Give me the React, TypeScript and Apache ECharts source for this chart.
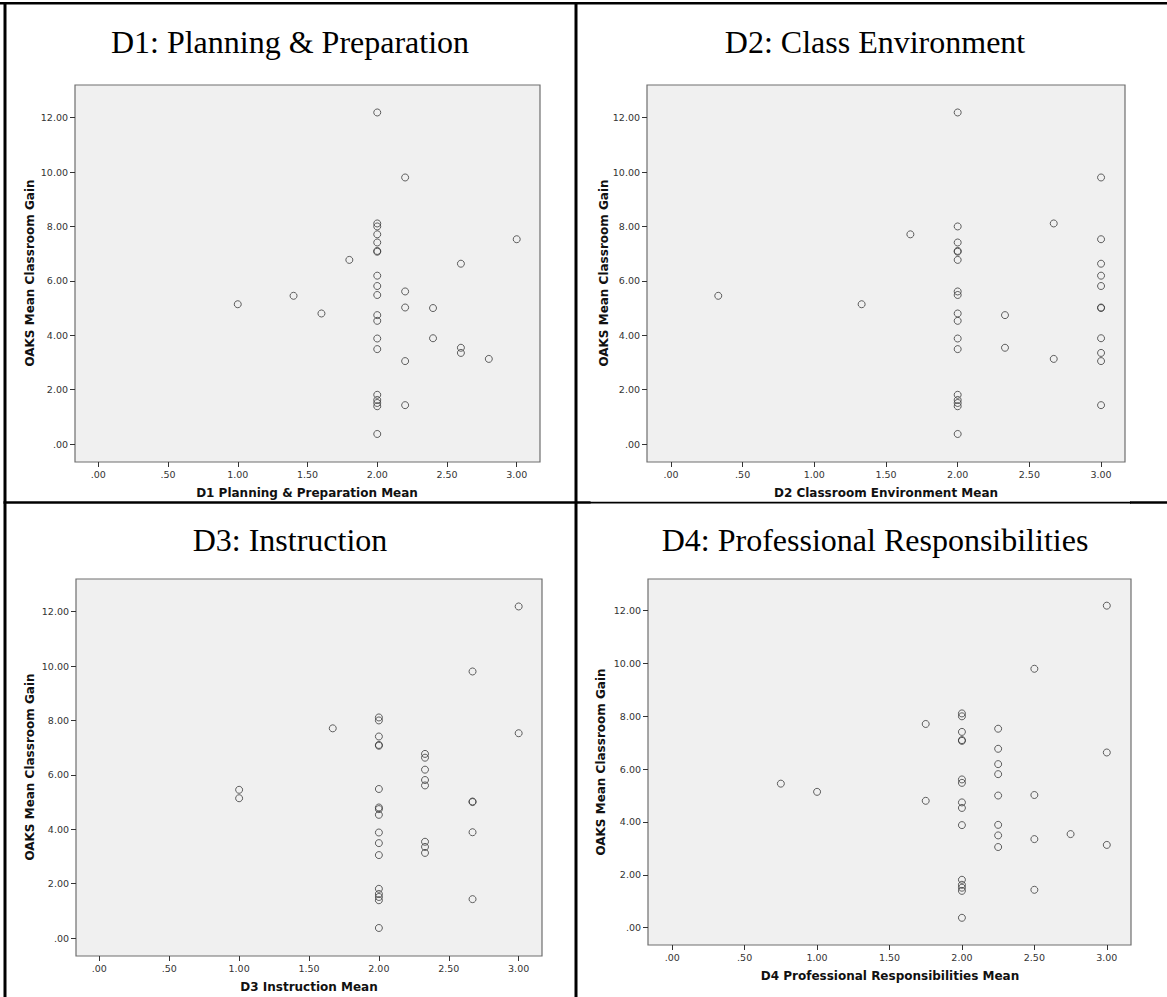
import React, { useEffect, useRef } from "react";
import * as echarts from "echarts";

// OAKS mean classroom gain per teacher (same teachers in every panel)
const gain = [
  12.19, 9.8, 8.11, 8.0, 7.71, 7.41, 7.1, 7.07, 6.77, 7.53, 6.63, 6.19, 5.81, 5.61, 5.48, 5.45, 5.14, 5.02,
  5.0, 4.8, 4.74, 4.53, 3.88, 3.89, 3.49, 3.54, 3.35, 3.05, 3.13, 1.81, 1.62, 1.51, 1.39, 1.43, 0.37,
];

// Domain means for the same teachers, in the same order as gain
const d1Planning = [
  2.0, 2.2, 2.0, 2.0, 2.0, 2.0, 2.0, 2.0, 1.8, 3.0, 2.6, 2.0, 2.0, 2.2, 2.0, 1.4, 1.0, 2.2,
  2.4, 1.6, 2.0, 2.0, 2.0, 2.4, 2.0, 2.6, 2.6, 2.2, 2.8, 2.0, 2.0, 2.0, 2.0, 2.2, 2.0,
];
const d2Environment = [
  2.0, 3.0, 2.67, 2.0, 1.67, 2.0, 2.0, 2.0, 2.0, 3.0, 3.0, 3.0, 3.0, 2.0, 2.0, 0.33, 1.33, 3.0,
  3.0, 2.0, 2.33, 2.0, 2.0, 3.0, 2.0, 2.33, 3.0, 3.0, 2.67, 2.0, 2.0, 2.0, 2.0, 3.0, 2.0,
];
const d3Instruction = [
  3.0, 2.67, 2.0, 2.0, 1.67, 2.0, 2.0, 2.0, 2.33, 3.0, 2.33, 2.33, 2.33, 2.33, 2.0, 1.0, 1.0, 2.67,
  2.67, 2.0, 2.0, 2.0, 2.0, 2.67, 2.0, 2.33, 2.33, 2.0, 2.33, 2.0, 2.0, 2.0, 2.0, 2.67, 2.0,
];
const d4Professional = [
  3.0, 2.5, 2.0, 2.0, 1.75, 2.0, 2.0, 2.0, 2.25, 2.25, 3.0, 2.25, 2.25, 2.0, 2.0, 0.75, 1.0, 2.5,
  2.25, 1.75, 2.0, 2.0, 2.0, 2.25, 2.25, 2.75, 2.5, 2.25, 3.0, 2.0, 2.0, 2.0, 2.0, 2.5, 2.0,
];

const xTicks = [0, 0.5, 1, 1.5, 2, 2.5, 3];
const yTicks = [0, 2, 4, 6, 8, 10, 12];

const panelTitles = [
  "D1: Planning & Preparation",
  "D2: Class Environment",
  "D3: Instruction",
  "D4: Professional Responsibilities",
];
const xAxisTitles = [
  "D1 Planning & Preparation Mean",
  "D2 Classroom Environment Mean",
  "D3 Instruction Mean",
  "D4 Professional Responsibilities Mean",
];
const yAxisTitle = "OAKS Mean Classroom Gain";
const domainMeans = [d1Planning, d2Environment, d3Instruction, d4Professional];

// Layout of the four table cells
const layout = [
  { grid: { left: 75, top: 85, width: 465, height: 377 }, title: [290, 42], yTitle: [30, 273], xTitle: [307, 493] },
  { grid: { left: 647, top: 85, width: 478, height: 377 }, title: [875, 42], yTitle: [604, 273], xTitle: [886, 493] },
  { grid: { left: 76, top: 579, width: 466, height: 377 }, title: [290, 540], yTitle: [30, 767], xTitle: [309, 987] },
  { grid: { left: 648, top: 579, width: 483, height: 366 }, title: [875, 540], yTitle: [601, 762], xTitle: [890, 976] },
];

const fmt = (v: number) => {
  const s = v.toFixed(2);
  return s.startsWith("0") ? s.slice(1) : s;
};

const tickFont = { color: "#333", fontSize: 9.5, fontFamily: "DejaVu Sans" };

export default function App() {
  const ref = useRef<HTMLDivElement>(null);

  useEffect(() => {
    document.body.style.margin = "0";
    const chart = echarts.init(ref.current!, undefined, { renderer: "svg" });

    const graphics: any[] = [];
    // table rules
    const black = { fill: "#000" };
    graphics.push({ type: "rect", shape: { x: 0, y: 2, width: 1167, height: 2.5 }, style: black, silent: true });
    graphics.push({ type: "rect", shape: { x: 3.5, y: 2, width: 3, height: 995 }, style: black, silent: true });
    graphics.push({ type: "rect", shape: { x: 574.5, y: 2, width: 3, height: 995 }, style: black, silent: true });
    graphics.push({ type: "rect", shape: { x: 3.5, y: 501.2, width: 587, height: 2.6 }, style: black, silent: true });
    graphics.push({ type: "rect", shape: { x: 590, y: 501.8, width: 541, height: 1.6 }, style: black, silent: true });
    graphics.push({ type: "rect", shape: { x: 1130, y: 501.2, width: 37, height: 2.6 }, style: black, silent: true });

    layout.forEach((l, i) => {
      graphics.push({
        type: "text",
        x: l.title[0],
        y: l.title[1],
        style: {
          text: panelTitles[i],
          font: '32px "Liberation Serif", "Times New Roman", serif',
          fill: "#000",
          textAlign: "center",
          textVerticalAlign: "middle",
        },
      });
      graphics.push({
        type: "text",
        x: l.yTitle[0],
        y: l.yTitle[1],
        rotation: Math.PI / 2,
        style: {
          text: yAxisTitle,
          font: 'bold 12px "DejaVu Sans", sans-serif',
          fill: "#111",
          textAlign: "center",
          textVerticalAlign: "middle",
        },
      });
      graphics.push({
        type: "text",
        x: l.xTitle[0],
        y: l.xTitle[1],
        style: {
          text: xAxisTitles[i],
          font: 'bold 12px "DejaVu Sans", sans-serif',
          fill: "#111",
          textAlign: "center",
          textVerticalAlign: "middle",
        },
      });
    });

    chart.setOption({
      animation: false,
      backgroundColor: "#fff",
      grid: layout.map((l) => ({
        ...l.grid,
        show: true,
        backgroundColor: "#f0f0f0",
        borderColor: "#6e6e6e",
        borderWidth: 1.2,
        containLabel: false,
      })),
      xAxis: layout.map((_, i) => ({
        type: "value",
        gridIndex: i,
        min: -0.167,
        max: 3.167,
        axisLine: { show: false, onZero: false },
        splitLine: { show: false },
        axisTick: { show: true, length: 5, customValues: xTicks, lineStyle: { color: "#333" } },
        axisLabel: { ...tickFont, margin: 7, customValues: xTicks, formatter: fmt },
      })),
      yAxis: layout.map((_, i) => ({
        type: "value",
        gridIndex: i,
        min: -0.66,
        max: 13.2,
        axisLine: { show: false, onZero: false },
        splitLine: { show: false },
        axisTick: { show: true, length: 5, customValues: yTicks, lineStyle: { color: "#333" } },
        axisLabel: { ...tickFont, margin: 7, customValues: yTicks, formatter: fmt },
      })),
      series: domainMeans.map((xs, i) => ({
        type: "scatter",
        xAxisIndex: i,
        yAxisIndex: i,
        symbol: "circle",
        symbolSize: 7,
        itemStyle: { color: "transparent", borderColor: "#3a3a3a", borderWidth: 1 },
        data: xs.map((x, k) => [x, gain[k]]),
      })),
      graphic: graphics,
    });

    return () => chart.dispose();
  }, []);

  return <div ref={ref} style={{ width: 1167, height: 997, background: "#fff" }} />;
}
